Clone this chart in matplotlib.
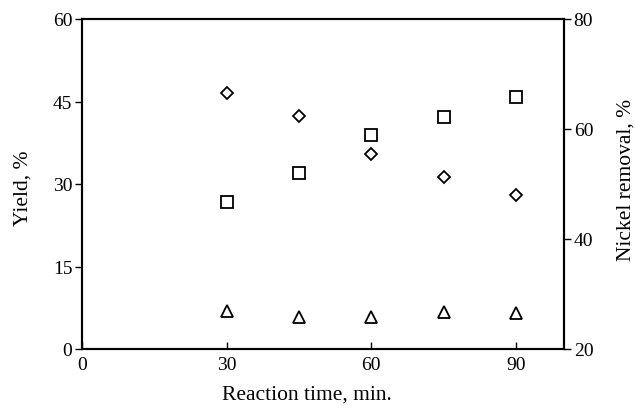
import matplotlib
matplotlib.use("Agg")
import matplotlib.pyplot as plt

time_min = [30, 45, 60, 75, 90]
yield_diamond = [46.5, 42.3, 35.5, 31.3, 28.0]
yield_triangle = [7.0, 5.8, 5.8, 6.7, 6.5]
nickel_removal = [46.7, 52.0, 58.9, 62.2, 65.8]

x_ticks = [0, 30, 60, 90]
left_ticks = [0, 15, 30, 45, 60]
right_ticks = [20, 40, 60, 80]

plt.rcParams['font.family'] = ['Liberation Serif', 'DejaVu Serif']
plt.rcParams['font.size'] = 14

fig = plt.figure(figsize=(6.35, 4.10), dpi=100)
ax = fig.add_axes([82/635, 1 - 350/410, (564 - 82)/635, (350 - 20)/410])
ax2 = ax.twinx()

mk = dict(linestyle='none', markerfacecolor='white', markeredgecolor='black', markeredgewidth=1.3)
ax.plot(time_min, yield_diamond, marker='D', markersize=6.5, **mk)
ax.plot(time_min, yield_triangle, marker='^', markersize=8.5, **mk)
ax2.plot(time_min, nickel_removal, marker='s', markersize=9, **mk)

ax.set_xlim(0, 100)
ax.set_ylim(0, 60)
ax2.set_ylim(20, 80)
ax.set_xticks(x_ticks)
ax.set_yticks(left_ticks)
ax2.set_yticks(right_ticks)

for a in (ax, ax2):
    for s in a.spines.values():
        s.set_linewidth(1.5)
ax.tick_params(axis='x', direction='in', length=5, width=1, pad=5, labelsize=14)
ax.tick_params(axis='y', direction='out', length=5, width=1, pad=2, labelsize=14)
ax2.tick_params(axis='y', direction='out', length=5, width=1, pad=2, labelsize=14)

ax.set_xlabel('Reaction time, min.', fontsize=15.5)
ax.set_ylabel('Yield, %', fontsize=15.5)
ax2.set_ylabel('Nickel removal, %', fontsize=15.5)
ax.xaxis.set_label_coords(0.466, -0.108)
ax.yaxis.set_label_coords(-0.103, 0.49)
ax2.yaxis.set_label_coords(1.110, 0.515)

fig.savefig('out.png', dpi=100)
